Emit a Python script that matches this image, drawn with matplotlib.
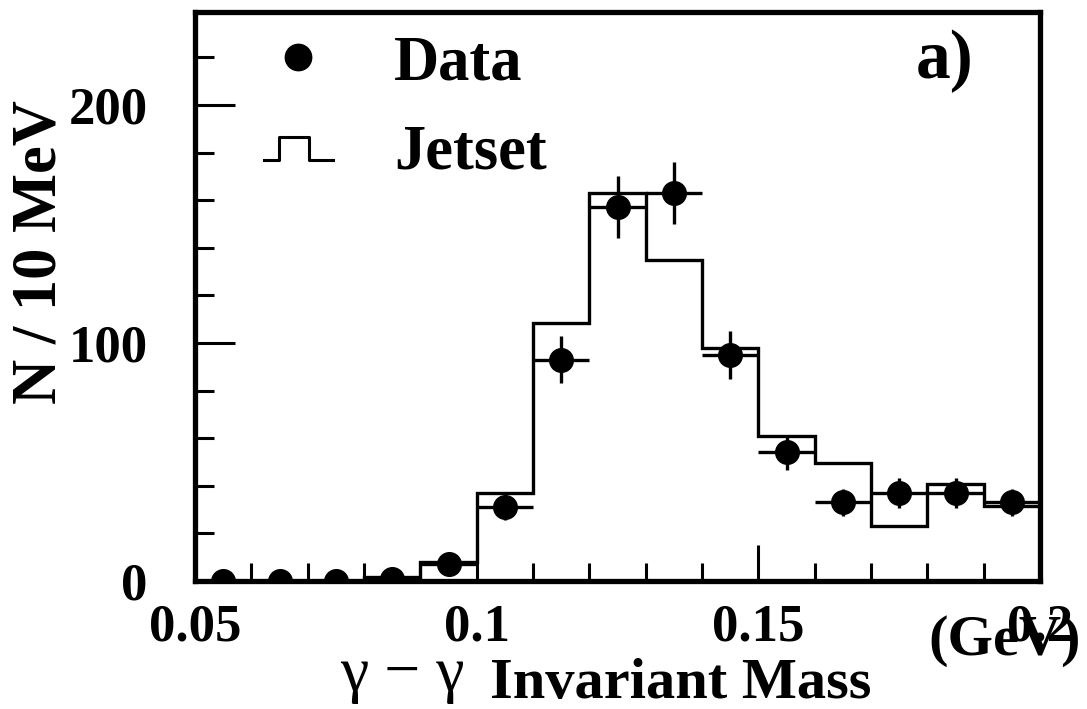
import matplotlib
matplotlib.use('Agg')
import matplotlib.pyplot as plt
from matplotlib.legend_handler import HandlerBase
from matplotlib.lines import Line2D
from matplotlib.ticker import MultipleLocator
import numpy as np

# bin centres (GeV), 10 MeV bins
mass = [0.055, 0.065, 0.075, 0.085, 0.095, 0.105, 0.115, 0.125,
        0.135, 0.145, 0.155, 0.165, 0.175, 0.185, 0.195]
data = [0, 0, 0, 1, 7, 31, 93, 157, 163, 95, 54, 33, 37, 37, 33]
data_err = [0, 0, 0, 1, 2.6, 5.5, 9.8, 13, 13, 10, 7.3, 5.7, 6.3, 6.3, 5.7]
jetset = [0, 0, 0, 1.5, 8, 37, 108.5, 163, 135, 98, 61, 49.5, 23, 40.7, 31.5]

plt.rcParams['font.family'] = 'Liberation Serif'
plt.rcParams['font.weight'] = 'bold'

fig = plt.figure(figsize=(10.87, 7.09), dpi=100)
ax = fig.add_axes([0.1794, 0.1805, 0.7774, 0.8025])

mass = np.array(mass)
edges = np.append(mass - 0.005, mass[-1] + 0.005)
ax.stairs(jetset, edges, color='k', lw=2.4, baseline=None)
ax.errorbar(mass, data, yerr=data_err, xerr=0.005, fmt='o', color='k',
            ms=17, elinewidth=2.4, capsize=0)

ax.set_xlim(0.05, 0.2)
ax.set_ylim(0, 239)
ax.xaxis.set_minor_locator(MultipleLocator(0.01))
ax.yaxis.set_major_locator(MultipleLocator(100))
ax.yaxis.set_minor_locator(MultipleLocator(20))
ax.set_xticks([0.05, 0.1, 0.15, 0.2])
ax.set_xticklabels(['0.05', '0.1', '0.15', '0.2'])
ax.tick_params(which='both', direction='in', width=2.2, labelsize=38,
               top=False, right=False)
ax.tick_params(axis='y', which='major', length=29, pad=34)
ax.tick_params(axis='y', which='minor', length=14)
ax.tick_params(axis='x', which='major', length=26, pad=16)
ax.tick_params(axis='x', which='minor', length=13)
for s in ax.spines.values():
    s.set_linewidth(3.8)


# little histogram-step symbol for the legend
class StepHandler(HandlerBase):
    def create_artists(self, legend, orig_handle, xdescent, ydescent,
                       width, height, fontsize, trans):
        x = np.array([0, 0.22, 0.22, 0.65, 0.65, 1.0]) * width - xdescent
        y = np.array([0.2, 0.2, 0.73, 0.73, 0.2, 0.2]) * height - ydescent
        return [Line2D(x, y, color='k', lw=2.2, transform=trans)]


h_data = Line2D([], [], marker='o', ls='none', color='k', ms=19)
h_jet = Line2D([], [], color='k')
leg = ax.legend([h_data, h_jet], ['Data', 'Jetset'],
                handler_map={h_jet: StepHandler()},
                loc='upper left', bbox_to_anchor=(0.015, 1.058),
                frameon=False, prop={'size': 45, 'weight': 'bold'},
                handlelength=1.1, handletextpad=0.98, labelspacing=0.5)

ax.text(0.8876, 0.914, 'a)', transform=ax.transAxes, fontsize=50,
        fontweight='bold', ha='center', va='center')

fig.text(0.037, 1 - 252 / 709, 'N / 10 MeV', rotation=90, fontsize=45,
         fontweight='bold', ha='center', va='center')
fig.text(340 / 1087, 1 - 690 / 709, 'γ − γ', fontsize=46,
         fontweight='normal', ha='left', va='baseline')
fig.text(490 / 1087, 1 - 698 / 709, 'Invariant Mass', fontsize=42,
         fontweight='bold', ha='left', va='baseline')
fig.text(1005 / 1087, 1 - 655 / 709, '(GeV)', fontsize=42,
         fontweight='bold', ha='center', va='baseline')

fig.savefig('out.png', dpi=100)
